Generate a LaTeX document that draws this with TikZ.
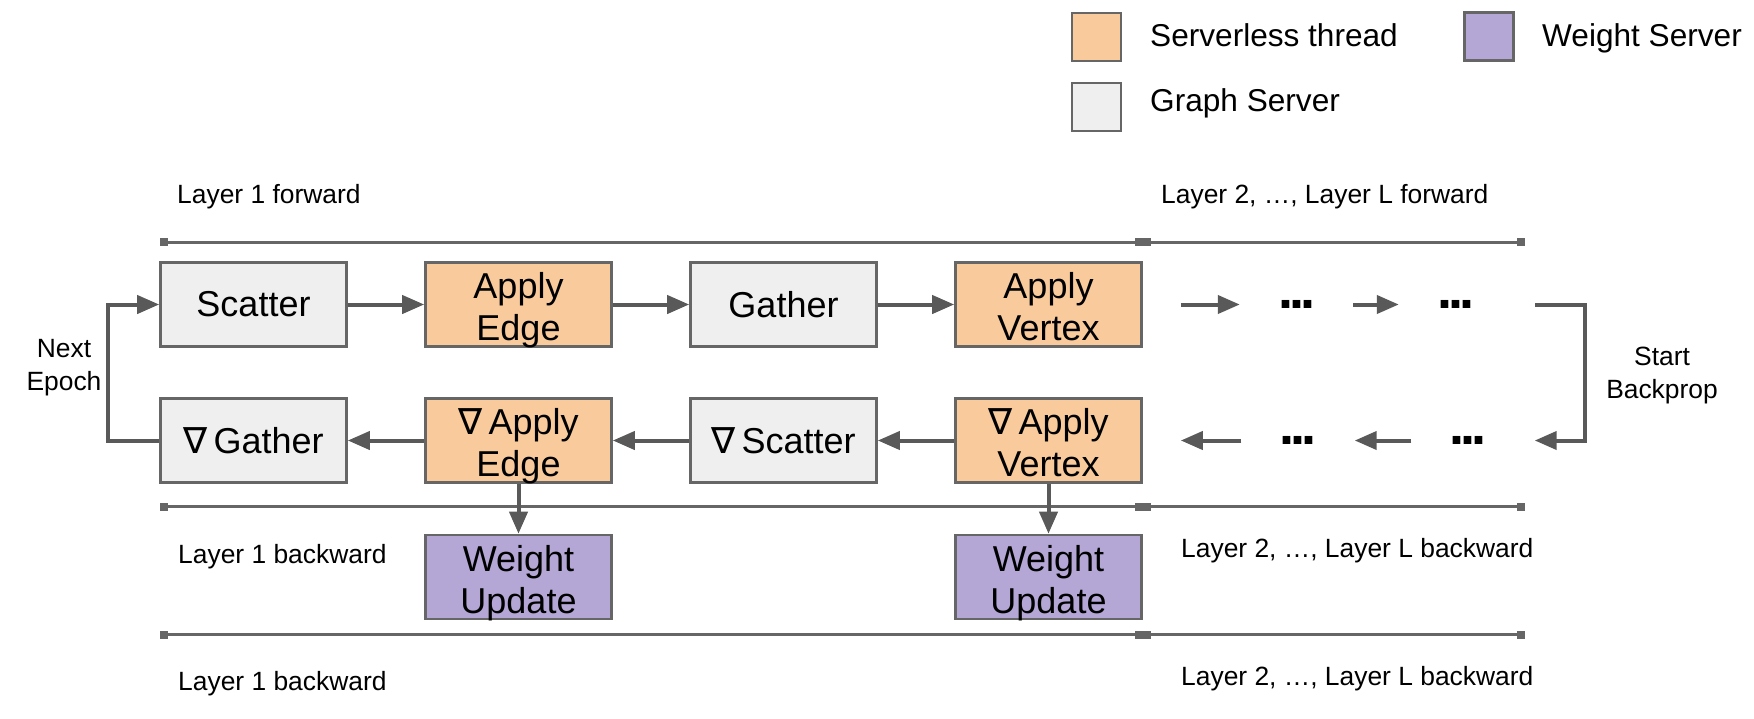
\documentclass[tikz,border=0pt]{standalone}
\usepackage{fontspec}
\setmainfont{Liberation Sans}
\newfontfamily\nablafont{DejaVu Sans}
\usetikzlibrary{arrows.meta}
\definecolor{graphgray}{HTML}{EFEFEF}
\definecolor{lambdaorange}{HTML}{F9CB9C}
\definecolor{weightpurple}{HTML}{B4A7D6}
\definecolor{edgegray}{HTML}{666666}
\definecolor{flowgray}{HTML}{595959}
\newcommand{\grad}{{\nablafont ∇}\,}
\newcommand{\bigdots}{.\kern-4pt.\kern-4pt.}
\tikzset{x=1pt, y=1pt,
         node distance=265pt,
         graphbox/.style={draw=edgegray, line width=2.6pt, fill=graphgray,
                          minimum width=186pt, minimum height=84pt, inner sep=0pt,
                          align=center, font=\fontsize{36}{42}\selectfont},
         lambdabox/.style={graphbox, fill=lambdaorange},
         weightbox/.style={graphbox, fill=weightpurple},
         twoline/.style={text height=76pt, text depth=4pt},
         keybox/.style={draw=edgegray, line width=2.6pt, minimum width=49pt,
                        minimum height=48pt, inner sep=0pt},
         flow/.style={-{Triangle[length=22pt, width=18pt]}, line width=4pt, draw=flowgray},
         stub/.style={flow, shorten <=38pt, shorten >=38pt},
         layerline/.style={{Square[length=8pt, width=8pt]}-{Square[length=8pt, width=8pt]},
                           line width=3pt, draw=edgegray},
         laytext/.style={font=\fontsize{26.4}{33}\selectfont, anchor=base west, inner sep=0pt},
         legendtext/.style={font=\fontsize{31.6}{36}\selectfont, anchor=base west, inner sep=0pt},
         sidetext/.style={font=\fontsize{26.4}{33}\selectfont, align=center, inner sep=0pt},
         dots/.style={font=\fontsize{54}{54}\selectfont\bfseries, inner sep=0pt},
         }
\begin{document}
\begin{tikzpicture}
    \useasboundingbox (0,0) rectangle (1754,-718);

    % legend
    \node[keybox, fill=lambdaorange] (keyls) at (1096.5,-37) {};
    \node[keybox, fill=graphgray] (keygs) at (1096.5,-107) {};
    \node[keybox, fill=weightpurple] (keyws) at (1489,-36.5) {};
    \node[legendtext] (txtls) at (1150,-46) {Serverless thread};
    \node[legendtext] (txtgs) at (1150,-111) {Graph Server};
    \node[legendtext] (txtws) at (1542,-46) {Weight Server};

    % forward pass
    \node[graphbox] (scatter) at (253.5,-304.5) {Scatter};
    \node[lambdabox, twoline, right of=scatter] (applyedge) {Apply\\Edge};
    \node[graphbox, right of=applyedge] (gather) {Gather};
    \node[lambdabox, twoline, right of=gather] (applyvertex) {Apply\\Vertex};
    \node[dots] (dotsfa) at (1296.5,-304.5) {\bigdots};
    \node[dots] (dotsfb) at (1455.5,-304.5) {\bigdots};

    % backward pass
    \node[graphbox, node distance=136pt, below of=scatter] (ggather) {\grad Gather};
    \node[lambdabox, twoline, right of=ggather] (gapplyedge) {\grad Apply\\Edge};
    \node[graphbox, right of=gapplyedge] (gscatter) {\grad Scatter};
    \node[lambdabox, twoline, right of=gscatter] (gapplyvertex) {\grad Apply\\Vertex};
    \node[dots] (dotsba) at (1298,-440.5) {\bigdots};
    \node[dots] (dotsbb) at (1468,-440.5) {\bigdots};

    \node[weightbox, twoline, node distance=136.5pt, below of=gapplyedge] (weightedge) {Weight\\Update};
    \node[weightbox, twoline, node distance=136.5pt, below of=gapplyvertex] (weightvertex) {Weight\\Update};

    \node[sidetext] (nextepoch) at (64,-368) {Next\\Epoch};
    \node[sidetext] (startbp) at (1662,-376) {Start\\Backprop};

    \node[laytext] (lay1fwd) at (177,-203) {Layer 1 forward};
    \node[laytext] (laylfwd) at (1161,-203) {Layer 2, …, Layer L forward};
    \node[laytext] (lay1bwd) at (178,-563) {Layer 1 backward};
    \node[laytext] (laylbwd) at (1181,-557) {Layer 2, …, Layer L backward};
    \node[laytext] (lay1bwdb) at (178,-690) {Layer 1 backward};
    \node[laytext] (laylbwdb) at (1181,-685) {Layer 2, …, Layer L backward};

    \foreach \ly in {242,506.5,634.5} {
        \draw[layerline] (160,-\ly) -- (1142.5,-\ly);
        \draw[layerline] (1142.5,-\ly) -- (1525,-\ly);
    }

    \draw[flow] (scatter) -- (applyedge);
    \draw[flow] (applyedge) -- (gather);
    \draw[flow] (gather) -- (applyvertex);
    \draw[stub] (applyvertex) -- (dotsfa);
    \draw[stub] (dotsfa) -- (dotsfb);
    \draw[flow, shorten <=61pt, shorten >=48pt] (dotsfb.east) -- ++(111,0) |- (dotsbb.east);
    \draw[stub] (dotsbb) -- (dotsba);
    \draw[stub] (dotsba) -- (gapplyvertex);
    \draw[flow] (gapplyvertex) -- (gscatter);
    \draw[flow] (gscatter) -- (gapplyedge);
    \draw[flow] (gapplyedge) -- (ggather);
    \draw[flow] (ggather.west) -- ++(-51,0) |- (scatter.west);
    \draw[flow] (gapplyedge) -- (weightedge);
    \draw[flow] (gapplyvertex) -- (weightvertex);
\end{tikzpicture}
\end{document}
